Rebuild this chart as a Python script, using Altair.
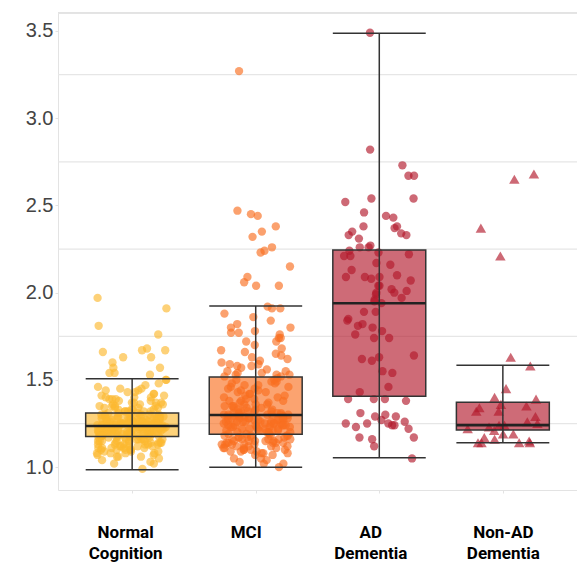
import altair as alt
import pandas as pd

# Diagnostic groups and their colours
groups = ["Normal Cognition", "MCI", "AD Dementia", "Non-AD Dementia"]
colors = ["#FCB92F", "#F96F20", "#B2182B", "#B2182B"]
shapes = ["circle", "circle", "circle", "triangle-up"]

# Box-plot summary per group
whisker_low = [0.985, 1.000, 1.054, 1.140]
quart_1 = [1.176, 1.188, 1.406, 1.213]
medians = [1.236, 1.299, 1.939, 1.241]
quart_3 = [1.310, 1.516, 2.245, 1.372]
whisker_high = [1.506, 1.924, 3.487, 1.584]

# Individual observations per group
normal = [
    1.97, 1.91, 1.81, 1.76, 1.68, 1.67, 1.67, 1.66, 1.63, 1.63, 1.60, 1.57, 1.57,
    1.54, 1.54, 1.53, 1.50, 1.50, 1.48,
    1.47, 1.46, 1.45, 1.45, 1.44, 1.44, 1.43, 1.43, 1.42, 1.42, 1.41, 1.41, 1.40,
    1.40, 1.40,
    1.39, 1.39, 1.39, 1.38, 1.38, 1.37, 1.37, 1.37, 1.37, 1.36, 1.36, 1.36, 1.35,
    1.35, 1.35, 1.35, 1.34, 1.34, 1.34, 1.34, 1.33, 1.33, 1.33, 1.33, 1.32, 1.32,
    1.32, 1.32, 1.32,
    1.31, 1.31, 1.31, 1.31, 1.30, 1.30, 1.30, 1.30, 1.30, 1.30, 1.29, 1.29, 1.29,
    1.29, 1.29, 1.29, 1.28, 1.28, 1.28, 1.28, 1.28, 1.28, 1.28, 1.27, 1.27, 1.27,
    1.27, 1.27, 1.27, 1.27, 1.27, 1.26, 1.26, 1.26, 1.26, 1.26, 1.26, 1.26, 1.26,
    1.25, 1.25, 1.25, 1.25, 1.25, 1.25, 1.25, 1.25, 1.25, 1.25, 1.24, 1.24, 1.24,
    1.24, 1.24, 1.24, 1.24, 1.24, 1.24, 1.24, 1.24, 1.24, 1.24, 1.24,
    1.23, 1.23, 1.23, 1.23, 1.23, 1.23, 1.23, 1.23, 1.23, 1.23, 1.23, 1.23, 1.22,
    1.22, 1.22, 1.22, 1.22, 1.22, 1.22, 1.22, 1.22, 1.22, 1.22, 1.21, 1.21, 1.21,
    1.21, 1.21, 1.21, 1.21, 1.21, 1.21, 1.21, 1.21, 1.20, 1.20, 1.20, 1.20, 1.20,
    1.20, 1.20, 1.20, 1.20, 1.20, 1.20, 1.19, 1.19, 1.19, 1.19, 1.19, 1.19, 1.19,
    1.19, 1.19, 1.18, 1.18, 1.18, 1.18, 1.18, 1.18, 1.18, 1.18, 1.18,
    1.17, 1.17, 1.17, 1.17, 1.17, 1.17, 1.16, 1.16, 1.16, 1.16, 1.16, 1.16, 1.15,
    1.15, 1.15, 1.15, 1.15, 1.15, 1.14, 1.14, 1.14, 1.14, 1.14, 1.14, 1.13, 1.13,
    1.13, 1.13, 1.13, 1.13, 1.12, 1.12, 1.12, 1.12, 1.12, 1.11, 1.11, 1.11, 1.11,
    1.11, 1.10, 1.10, 1.10, 1.10, 1.10, 1.09, 1.09, 1.09, 1.08, 1.08, 1.08, 1.08,
    1.07, 1.07, 1.06, 1.06, 1.06, 1.05, 1.04, 1.03, 1.02, 1.02, 0.99,
]
mci = [
    3.27, 2.47, 2.45, 2.44, 2.38, 2.35, 2.32, 2.26, 2.24, 2.23, 2.15, 2.09, 2.06,
    2.04, 2.04,
    1.92, 1.91, 1.91, 1.88, 1.86, 1.84, 1.82, 1.80, 1.80, 1.78, 1.77, 1.77, 1.76,
    1.74, 1.74, 1.72, 1.72, 1.70, 1.68, 1.67, 1.66, 1.65, 1.64, 1.63, 1.62, 1.61,
    1.60, 1.59, 1.59, 1.58, 1.58, 1.57, 1.56, 1.55, 1.55, 1.54, 1.54, 1.53, 1.53,
    1.53, 1.52, 1.52,
    1.51, 1.50, 1.50, 1.49, 1.49, 1.48, 1.48, 1.47, 1.47, 1.46, 1.46, 1.45, 1.45,
    1.44, 1.44, 1.43, 1.43, 1.42, 1.42, 1.41, 1.41, 1.40, 1.40, 1.39, 1.39, 1.38,
    1.38, 1.38, 1.37, 1.37, 1.36, 1.36, 1.36, 1.35, 1.35, 1.35, 1.34, 1.34, 1.34,
    1.33, 1.33, 1.33, 1.32, 1.32, 1.32, 1.32, 1.31, 1.31, 1.31, 1.31, 1.30, 1.30,
    1.30, 1.30, 1.30, 1.30, 1.30,
    1.29, 1.29, 1.29, 1.29, 1.29, 1.29, 1.28, 1.28, 1.28, 1.28, 1.28, 1.28, 1.27,
    1.27, 1.27, 1.27, 1.27, 1.27, 1.26, 1.26, 1.26, 1.26, 1.26, 1.26, 1.25, 1.25,
    1.25, 1.25, 1.25, 1.25, 1.24, 1.24, 1.24, 1.24, 1.24, 1.24, 1.23, 1.23, 1.23,
    1.23, 1.23, 1.22, 1.22, 1.22, 1.22, 1.22, 1.21, 1.21, 1.21, 1.21, 1.20, 1.20,
    1.20, 1.20, 1.19, 1.19, 1.19,
    1.18, 1.18, 1.18, 1.18, 1.18, 1.17, 1.17, 1.17, 1.17, 1.17, 1.16, 1.16, 1.16,
    1.16, 1.16, 1.15, 1.15, 1.15, 1.15, 1.15, 1.14, 1.14, 1.14, 1.14, 1.14, 1.13,
    1.13, 1.13, 1.13, 1.13, 1.12, 1.12, 1.12, 1.12, 1.11, 1.11, 1.11, 1.11, 1.10,
    1.10, 1.10, 1.10, 1.09, 1.09, 1.09, 1.08, 1.08, 1.08, 1.07, 1.07, 1.05, 1.05,
    1.04, 1.03, 1.02, 1.02, 1.00,
]
ad = [
    3.49, 2.82, 2.73, 2.67, 2.67, 2.54, 2.54, 2.52, 2.46, 2.44, 2.43, 2.38, 2.38,
    2.37, 2.35, 2.34, 2.33, 2.33, 2.31, 2.27, 2.26, 2.26, 2.24, 2.22, 2.21,
    2.23, 2.21, 2.17, 2.16, 2.13, 2.10, 2.09, 2.09, 2.08, 2.09, 2.07, 2.04, 2.04,
    2.02, 2.01, 2.00, 2.00, 1.99, 1.97, 1.96, 1.95,
    1.94, 1.89, 1.89, 1.85, 1.84, 1.82, 1.81, 1.80, 1.78, 1.76, 1.74, 1.74, 1.64,
    1.63, 1.62, 1.61, 1.55, 1.54, 1.46, 1.43,
    1.39, 1.39, 1.39, 1.38, 1.31, 1.30, 1.29, 1.29, 1.27, 1.26, 1.25, 1.25, 1.25,
    1.24, 1.24, 1.23, 1.22, 1.17, 1.17, 1.16, 1.12, 1.05,
]
non_ad = [
    2.68, 2.65, 2.37, 2.21, 1.63, 1.58, 1.45, 1.40, 1.39, 1.36, 1.35, 1.34, 1.32,
    1.32, 1.29, 1.26, 1.25, 1.24, 1.24, 1.23, 1.22, 1.21, 1.19, 1.19, 1.17, 1.16,
    1.15, 1.14, 1.14, 1.14, 1.14,
]

y_ticks = [1.0, 1.5, 2.0, 2.5, 3.0, 3.5]
grid_lines = [1.25, 1.75, 2.25, 2.75, 3.25]

# Long-form table of observations
rows = []
for gi, vals in enumerate([normal, mci, ad, non_ad]):
    for v in vals:
        rows.append({"group": groups[gi], "idx": gi, "value": v})
points_df = pd.DataFrame(rows)
points_df["k"] = range(len(points_df))

box_df = pd.DataFrame({
    "group": groups,
    "idx": list(range(len(groups))),
    "low": whisker_low,
    "q1": quart_1,
    "med": medians,
    "q3": quart_3,
    "high": whisker_high,
})

grid_df = pd.DataFrame({"g": grid_lines})

HALF = 0.376  # half box width in category units
x_scale = alt.Scale(domain=[-0.6, 3.6], nice=False, zero=False)
y_scale = alt.Scale(domain=[0.869, 3.603], nice=False, zero=False)
color_scale = alt.Scale(domain=groups, range=colors)

label_expr = "split(" + str(groups) + "[datum.value], ' ')"
label_shift = {
    "condition": [
        {"test": "datum.value == 0", "value": -7},
        {"test": "datum.value == 1", "value": -10},
        {"test": "datum.value == 2", "value": -9},
    ],
    "value": 0,
}

x_axis = alt.Axis(
    values=[0, 1, 2, 3], labelExpr=label_expr, grid=False, title=None,
    domain=True, domainColor="#e3e3e3", domainWidth=1,
    ticks=True, tickColor="#e3e3e3", tickSize=3,
    labelFont="Roboto", labelFontWeight="bold", labelFontSize=17,
    labelColor="#000000", labelLineHeight=21.5, labelBaseline="top",
    labelPadding=31, labelOffset=label_shift,
)
y_axis = alt.Axis(
    values=y_ticks, format=".1f", grid=False, title=None,
    domain=True, domainColor="#e3e3e3", domainWidth=1,
    ticks=True, tickColor="#e3e3e3", tickSize=3,
    labelFont="Liberation Sans", labelFontSize=20, labelColor="#444444",
    labelPadding=2,
)

grid = alt.Chart(grid_df).mark_rule(color="#e6e6e6", strokeWidth=1.2).encode(
    y=alt.Y("g:Q", scale=y_scale, axis=y_axis)
)
top_border = alt.Chart(grid_df).mark_rule(color="#e3e3e3", strokeWidth=1).encode(
    y=alt.value(0)
)

box_base = alt.Chart(box_df).transform_calculate(
    x_lo=f"datum.idx - {HALF}", x_hi=f"datum.idx + {HALF}"
)

box_fill = box_base.mark_rect(fillOpacity=0.64, strokeOpacity=0).encode(
    x=alt.X("x_lo:Q", scale=x_scale, axis=x_axis),
    x2="x_hi:Q",
    y=alt.Y("q1:Q", scale=y_scale),
    y2="q3:Q",
    color=alt.Color("group:N", scale=color_scale, legend=None),
)

# deterministic horizontal jitter around each group's centre
jitter = (
    "datum.idx + 0.285 * (2 * ((sin(datum.k * 12.9898 + 4.1414) * 43758.5453)"
    " - floor(sin(datum.k * 12.9898 + 4.1414) * 43758.5453)) - 1)"
)
points = alt.Chart(points_df).transform_calculate(xj=jitter).mark_point(
    filled=True, opacity=0.65, strokeWidth=0
).encode(
    x=alt.X("xj:Q", scale=x_scale),
    y=alt.Y("value:Q", scale=y_scale),
    color=alt.Color("group:N", scale=color_scale, legend=None),
    shape=alt.Shape("group:N", scale=alt.Scale(domain=groups, range=shapes), legend=None),
    size=alt.condition("datum.idx == 3", alt.value(110), alt.value(70)),
)

box_outline = box_base.mark_rect(
    fillOpacity=0, stroke="#333333", strokeWidth=1.5
).encode(x="x_lo:Q", x2="x_hi:Q", y="q1:Q", y2="q3:Q")

whisker = box_base.mark_rule(color="#333333", strokeWidth=1.5).encode(
    x="idx:Q", y="low:Q", y2="high:Q"
)
cap_low = box_base.mark_rule(color="#333333", strokeWidth=1.5).encode(
    x="x_lo:Q", x2="x_hi:Q", y="low:Q"
)
cap_high = box_base.mark_rule(color="#333333", strokeWidth=1.5).encode(
    x="x_lo:Q", x2="x_hi:Q", y="high:Q"
)
median = box_base.mark_rule(color="#222222", strokeWidth=2.6).encode(
    x="x_lo:Q", x2="x_hi:Q", y="med:Q"
)

chart = alt.layer(
    grid, top_border, box_fill, points, box_outline, whisker, cap_low, cap_high, median
).properties(
    width=519,
    height=477,
    padding={"left": 58, "top": 13, "right": 0, "bottom": 79},
    autosize=alt.AutoSizeParams(type="none"),
    background="#ffffff",
).configure_view(stroke=None)

chart.save("out.html", embed_options={"renderer": "svg", "actions": False})
